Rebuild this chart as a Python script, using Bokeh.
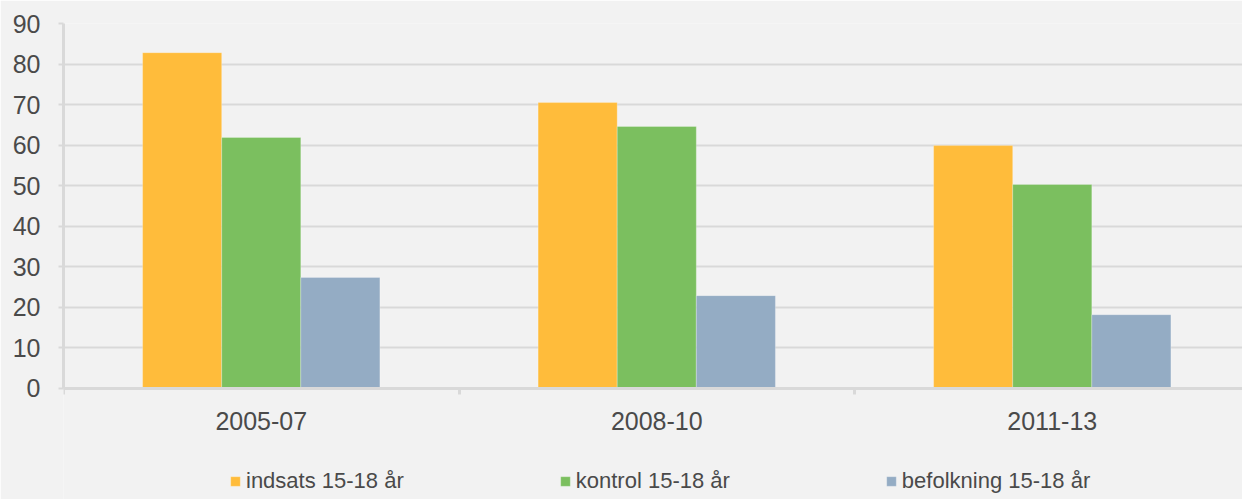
from bokeh.plotting import figure
from bokeh.models import (ColumnDataSource, Range1d, FixedTicker, Legend, LegendItem)
from bokeh.transform import dodge
from bokeh.embed import file_html
from bokeh.resources import INLINE

categories = ["2005-07", "2008-10", "2011-13"]
indsats = [82.8, 70.5, 59.9]
kontrol = [61.9, 64.6, 50.3]
befolkning = [27.4, 22.9, 18.2]
series_labels = ["indsats 15-18 år", "kontrol 15-18 år", "befolkning 15-18 år"]
y_ticks = [0, 10, 20, 30, 40, 50, 60, 70, 80, 90]

colors = ["#FFBC3B", "#7BBF5F", "#94ACC4"]
FONT = "Liberation Sans"
TXT = "#4a4a4a"
GRID = "#d9d9d9"

xpos = [i + 0.5 for i in range(len(categories))]
src = ColumnDataSource(dict(x=xpos, cat=categories, a=indsats, b=kontrol, c=befolkning))

p = figure(width=1242, height=499, output_backend="svg", toolbar_location=None,
           x_range=Range1d(0, 2.981), y_range=Range1d(-27.37, 90),
           min_border_left=63, min_border_right=0, min_border_top=23, min_border_bottom=0)
p.background_fill_color = "#f2f2f2"
p.border_fill_color = "#f2f2f2"
p.outline_line_color = None

renderers = []
for col, off, color in zip(["a", "b", "c"], [-0.2, 0.0, 0.2], colors):
    r = p.vbar(x=dodge("x", off), top=col, bottom=0, width=0.2, source=src,
               fill_color=color, line_color="#ffffff", line_alpha=0.25, line_width=1)
    renderers.append(r)

p.xgrid.grid_line_color = None
p.ygrid.grid_line_color = GRID
p.ygrid.grid_line_width = 2
p.yaxis.ticker = FixedTicker(ticks=y_ticks)
p.yaxis.bounds = (0, 90)
p.xaxis.ticker = FixedTicker(ticks=xpos, minor_ticks=[0, 1, 2, 3])
p.xaxis.major_label_overrides = {x: c for x, c in zip(xpos, categories)}
p.xaxis.fixed_location = 0

for ax in [p.xaxis[0], p.yaxis[0]]:
    ax.axis_line_color = GRID
    ax.axis_line_width = 3
    ax.major_label_text_font = FONT
    ax.major_label_text_font_size = "25px"
    ax.major_label_text_color = TXT

p.yaxis.major_tick_in = 0
p.yaxis.major_tick_out = 5
p.yaxis.major_tick_line_color = GRID
p.yaxis.major_tick_line_width = 2
p.yaxis.minor_tick_line_color = None
p.yaxis.major_label_standoff = 18

p.xaxis.major_tick_line_color = None
p.xaxis.major_tick_in = 0
p.xaxis.major_tick_out = 0
p.xaxis.minor_tick_in = 0
p.xaxis.minor_tick_out = 6
p.xaxis.minor_tick_line_color = GRID
p.xaxis.minor_tick_line_width = 3
p.xaxis.major_label_standoff = 18

legend = Legend(items=[LegendItem(label=l, renderers=[r]) for l, r in zip(series_labels, renderers)],
                orientation="horizontal", location=(166, 5),
                background_fill_alpha=0, border_line_color=None, padding=0, margin=0,
                spacing=155, glyph_width=12, glyph_height=12, label_standoff=5,
                label_text_font=FONT, label_text_font_size="22px", label_text_color=TXT)
p.add_layout(legend, "center")

open("out.html", "w").write(file_html(p, INLINE))
